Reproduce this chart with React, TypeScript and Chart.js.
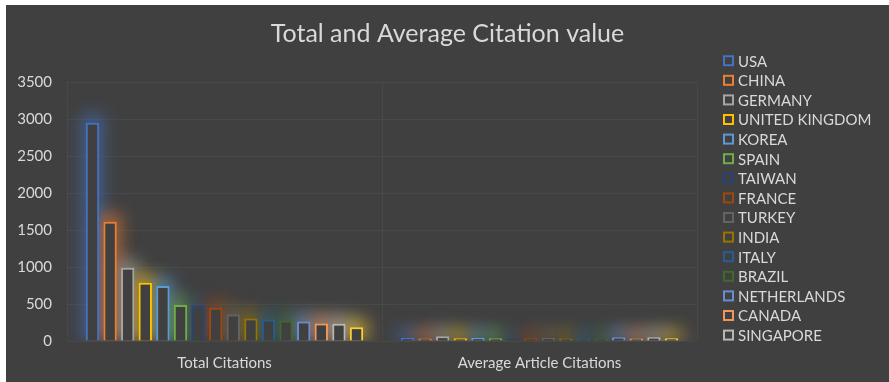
import { useEffect, useRef } from 'react';
import { Chart, registerables } from 'chart.js';

Chart.register(...registerables);

const categories = ['Total Citations', 'Average Article Citations'];
const countries = [
  'USA', 'CHINA', 'GERMANY', 'UNITED KINGDOM', 'KOREA', 'SPAIN', 'TAIWAN', 'FRANCE',
  'TURKEY', 'INDIA', 'ITALY', 'BRAZIL', 'NETHERLANDS', 'CANADA', 'SINGAPORE', '',
];
const totalCitations = [2950, 1610, 990, 788, 742, 485, 480, 449, 358, 304, 291, 277, 262, 235, 232, 187];
const averageCitations = [40, 33, 65, 36, 40, 36, 33, 36, 40, 33, 33, 33, 52, 33, 52, 36];
const seriesColors = [
  '#4472C4', '#ED7D31', '#A5A5A5', '#FFC000', '#5B9BD5', '#70AD47', '#264478', '#9E480E',
  '#636363', '#997300', '#255E91', '#43682B', '#698ED0', '#F1975A', '#B7B7B7', '#FFCD33',
];
const yMax = 3500;
const yStep = 500;
const titleText = 'Total and Average Citation value';

const BG = '#404040';
const TEXT = '#d9d9d9';
const GRID = 'rgba(255,255,255,0.045)';
const FONT = 'Lato, "Open Sans", sans-serif';

function withAlpha(hex: string, a: number) {
  const n = parseInt(hex.slice(1), 16);
  return `rgba(${(n >> 16) & 255},${(n >> 8) & 255},${n & 255},${a})`;
}

const glowPlugin = {
  id: 'glow',
  beforeDatasetsDraw(chart: any) {
    const { ctx, chartArea } = chart;
    ctx.save();
    ctx.beginPath();
    ctx.rect(chartArea.left, chartArea.top - 30, chartArea.right - chartArea.left, chartArea.bottom - chartArea.top + 30);
    ctx.clip();
    ctx.filter = 'blur(8px)';
    chart.data.datasets.forEach((ds: any, i: number) => {
      const meta = chart.getDatasetMeta(i);
      ctx.fillStyle = withAlpha(ds.borderColor, 0.55);
      meta.data.forEach((el: any) => {
        const { x, y, base, width } = el.getProps(['x', 'y', 'base', 'width'], true);
        ctx.fillRect(x - width / 2 - 5, y - 9, width + 10, base - y + 9);
      });
    });
    ctx.restore();
  },
};

const legendPlugin = {
  id: 'sideLegend',
  afterDraw(chart: any) {
    const ctx = chart.ctx;
    const lx = 717;
    const top = 55.7;
    const step = 19.6;
    ctx.save();
    ctx.font = `15px ${FONT}`;
    ctx.textAlign = 'left';
    ctx.textBaseline = 'middle';
    let row = 0;
    chart.data.datasets.forEach((ds: any) => {
      if (!ds.label) return;
      const cy = top + row * step;
      ctx.lineWidth = 2;
      ctx.strokeStyle = ds.borderColor;
      ctx.strokeRect(lx + 1, cy - 4.5, 9, 9);
      ctx.fillStyle = TEXT;
      ctx.fillText(ds.label, lx + 15, cy + 1);
      row++;
    });
    ctx.restore();
  },
};

export default function App() {
  const ref = useRef<HTMLCanvasElement>(null);

  useEffect(() => {
    if (!ref.current) return;
    const datasets = countries.map((name, i) => ({
      label: name,
      data: [totalCitations[i], averageCitations[i]],
      borderColor: seriesColors[i],
      backgroundColor: BG,
      borderWidth: 2,
      categoryPercentage: 0.894,
      barPercentage: 0.756,
    }));
    const chart = new Chart(ref.current, {
      type: 'bar',
      data: { labels: categories, datasets },
      options: {
        responsive: false,
        animation: false,
        devicePixelRatio: 1,
        layout: { padding: { left: 0, right: 0, top: 0, bottom: 0 } },
        plugins: {
          legend: { display: false },
          tooltip: { enabled: false },
          title: {
            display: true,
            text: titleText,
            color: TEXT,
            font: { family: FONT, size: 25, weight: 'normal' },
            padding: { top: 14, bottom: 33 },
          },
        },
        scales: {
          x: {
            grid: { color: GRID, drawTicks: false, offset: true },
            border: { display: false },
            ticks: { color: TEXT, font: { family: FONT, size: 15 }, padding: 13 },
            afterFit: (s: any) => { s.height = 41; },
          },
          y: {
            min: 0,
            max: yMax,
            grid: { color: GRID, drawTicks: false },
            border: { display: false },
            ticks: {
              stepSize: yStep,
              color: TEXT,
              font: { family: FONT, size: 15 },
              padding: 15,
              callback: (v: any) => String(v),
            },
            afterFit: (s: any) => { s.width = 61; },
          },
          legendSpace: {
            type: 'linear',
            position: 'right',
            display: true,
            grid: { display: false, drawTicks: false },
            border: { display: false },
            ticks: { display: false },
            afterFit: (s: any) => { s.width = 192; },
          },
        },
      },
      plugins: [glowPlugin, legendPlugin],
    });
    return () => chart.destroy();
  }, []);

  return (
    <div style={{ position: 'fixed', left: 0, top: 0, width: 889, height: 382, background: '#fff' }}>
      <div style={{ position: 'absolute', left: 6, top: 5, width: 883, height: 377, background: BG }}>
        <canvas ref={ref} width={883} height={377} style={{ display: 'block' }} />
      </div>
    </div>
  );
}
